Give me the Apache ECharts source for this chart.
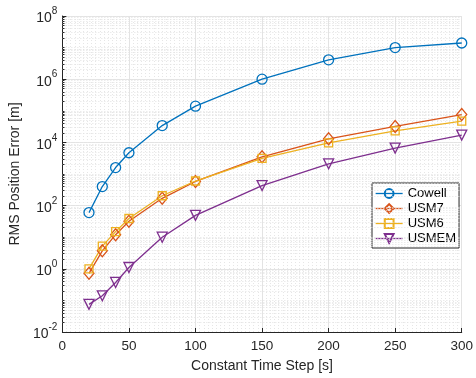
<!DOCTYPE html>
<html>
<head>
<meta charset="utf-8">
<script src="https://cdn.jsdelivr.net/npm/echarts@6/dist/echarts.min.js"></script>
<style>html,body{margin:0;padding:0;background:#fff}#c{width:476px;height:378px}</style>
</head>
<body>
<div id="c"></div>
<script>
var timeSteps = [20, 30, 40, 50, 75, 100, 150, 200, 250, 300];
var cowell = [60, 400, 1600, 4700, 34000, 140000, 1.0e6, 4.1e6, 1.0e7, 1.4e7];
var usm7 = [0.72, 3.7, 12, 32, 170, 580, 3500, 13000, 32000, 76000];
var usm6 = [1.0, 5.2, 15, 39, 205, 600, 3100, 9700, 23000, 47000];
var usmem = [0.075, 0.14, 0.37, 1.1, 10, 49, 430, 2100, 6600, 17000];
var seriesNames = ['Cowell', 'USM7', 'USM6', 'USMEM'];
var colors = ['#0072BD', '#D95319', '#EDB120', '#7E2F8E'];

function pairs(ys) { return timeSteps.map(function (x, i) { return [x, ys[i]]; }); }

// minor log grid positions (2..9 x 10^k and odd decades)
var minorVals = [];
for (var e = -2; e < 8; e++) {
  for (var m = 1; m <= 9; m++) {
    if (m === 1 && e % 2 === 0) continue;
    minorVals.push(m * Math.pow(10, e));
  }
}
var markData = [];
minorVals.forEach(function (v) {
  markData.push({yAxis: v});
  markData.push([
    {coord: [0, v], lineStyle: {color: '#262626', type: 'solid', width: 1}},
    {coord: [1.6, v]}
  ]);
});

var font = 'Liberation Sans, Arial, Helvetica, sans-serif';
var chart = echarts.init(document.getElementById('c'), null, {renderer: 'canvas'});

function mk(name, ys, color, symbol, size, rotate) {
  return {
    name: name, type: 'line', data: pairs(ys),
    symbol: symbol, symbolSize: size, symbolRotate: rotate || 0,
    showAllSymbol: true,
    lineStyle: {color: color, width: 1.3},
    itemStyle: {color: 'rgba(255,255,255,0)', borderColor: color, borderWidth: 1.3},
    emphasis: {disabled: true},
    z: 5
  };
}

chart.setOption({
  animation: false,
  backgroundColor: '#fff',
  grid: {left: 59, right: 11, top: 16, bottom: 42, containLabel: false},
  xAxis: {
    type: 'value', min: 0, max: 300, interval: 50,
    name: 'Constant Time Step [s]', nameLocation: 'middle', nameGap: 27,
    nameTextStyle: {fontFamily: font, fontSize: 14, color: '#262626'},
    axisLine: {show: true, onZero: false, lineStyle: {color: '#262626', width: 1}},
    axisTick: {show: true, inside: true, length: 4, lineStyle: {color: '#262626'}},
    axisLabel: {fontFamily: font, fontSize: 13.5, color: '#262626', margin: 7},
    splitLine: {show: true, lineStyle: {color: '#e3e3e3', width: 1}},
    minorTick: {show: false, splitNumber: 16},
    minorSplitLine: {show: true, lineStyle: {color: '#e6e6e6', width: 1, type: [1, 2]}}
  },
  yAxis: {
    type: 'log', logBase: 10, min: 0.01, max: 1e8, interval: 2,
    name: 'RMS Position Error [m]', nameLocation: 'middle', nameGap: 38,
    nameTextStyle: {fontFamily: font, fontSize: 14, color: '#262626'},
    axisLine: {show: true, lineStyle: {color: '#262626', width: 1}},
    axisTick: {show: true, inside: true, length: 4, lineStyle: {color: '#262626'}},
    minorTick: {show: false},
    minorSplitLine: {show: false},
    axisLabel: {
      margin: 5,
      formatter: function (v) {
        var ex = Math.round(Math.log10(v));
        return '{b|10}{s|' + ex + '}';
      },
      rich: {
        b: {fontFamily: font, fontSize: 14, color: '#262626', lineHeight: 19, verticalAlign: 'bottom'},
        s: {fontFamily: font, fontSize: 10, color: '#262626', lineHeight: 19, verticalAlign: 'top'}
      }
    },
    splitLine: {show: true, lineStyle: {color: '#e3e3e3', width: 1}}
  },
  legend: {
    show: true, orient: 'vertical', left: 372, top: 183,
    data: seriesNames,
    itemWidth: 27, itemHeight: 11, itemGap: 0,
    padding: [3, 3, 2, 3],
    borderColor: '#262626', borderWidth: 1, backgroundColor: '#fff',
    lineStyle: {width: 1.3},
    textStyle: {fontFamily: font, fontSize: 13, lineHeight: 15, color: '#000'},
    selectedMode: false
  },
  series: [
    {
      name: 'grid-minor', type: 'line', data: [], silent: true,
      markLine: {
        silent: true, symbol: 'none', animation: false,
        label: {show: false},
        lineStyle: {color: '#e2e2e2', width: 1, type: [1, 2]},
        data: markData
      },
      z: 1
    },
    mk('Cowell', cowell, colors[0], 'circle', 10),
    mk('USM7', usm7, colors[1], 'diamond', [10, 12]),
    mk('USM6', usm6, colors[2], 'rect', 8),
    mk('USMEM', usmem, colors[3], 'triangle', 10, 180)
  ]
});
</script>
</body>
</html>
